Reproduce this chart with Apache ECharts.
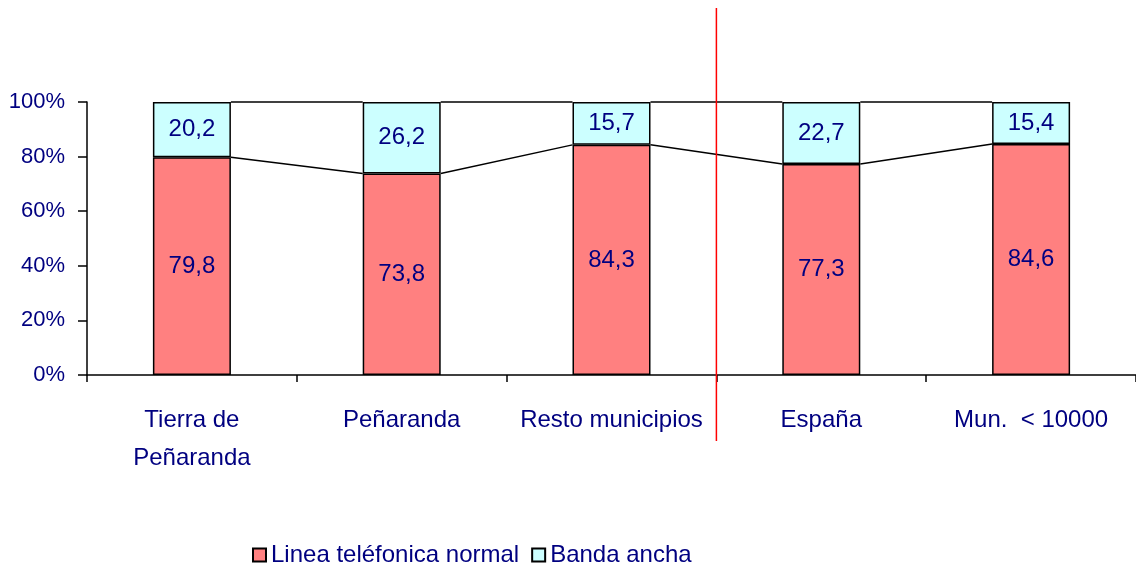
<!DOCTYPE html>
<html>
<head>
<meta charset="utf-8">
<title>Linea telefonica vs banda ancha</title>
<script src="https://cdn.jsdelivr.net/npm/echarts@6/dist/echarts.min.js"></script>
<style>
    html, body { margin: 0; padding: 0; background: #fff; }
    #chart { width: 1136px; height: 565px; }
</style>
</head>
<body>
<div id="chart"></div>
<script>
// categories and values (percent)
const categories = ['Tierra de\nPeñaranda', 'Peñaranda', 'Resto municipios', 'España', 'Mun.  < 10000'];
const lineaNormal = [79.8, 73.8, 84.3, 77.3, 84.6];
const bandaAncha = [20.2, 26.2, 15.7, 22.7, 15.4];
const yTicks = [0, 20, 40, 60, 80, 100];
const dividerAfter = 2; // red line between "Resto municipios" and "España"

const NAVY = '#000080';
const FONT = '"Liberation Sans", Arial, sans-serif';
const BAR_W = 78;

const chart = echarts.init(document.getElementById('chart'));

// series lines joining the tops of the stacked segments (Excel style)
const joinData = lineaNormal.slice(0, -1).map((v, i) => [i, v, lineaNormal[i + 1]]);

const valueLabel = {
    show: true, position: 'inside', color: NAVY, fontSize: 24,
    formatter: p => String(p.value).replace('.', ',')
};

const option = {
    backgroundColor: '#fff',
    animation: false,
    textStyle: { fontFamily: FONT },
    grid: { left: 87, top: 102, width: 1051, height: 273, containLabel: false },
    legend: {
        data: ['Linea teléfonica normal', 'Banda ancha'],
        left: 247,
        top: 538,
        itemWidth: 13,
        itemHeight: 13,
        itemGap: 12,
        icon: 'rect',
        textStyle: { color: NAVY, fontSize: 24, fontFamily: FONT }
    },
    xAxis: {
        type: 'category',
        data: categories,
        axisLine: { lineStyle: { color: '#000', width: 1.5 } },
        axisTick: { show: true, length: 7, lineStyle: { color: '#000', width: 1.5 } },
        axisLabel: { color: NAVY, fontSize: 24, margin: 26, lineHeight: 38, interval: 0 }
    },
    yAxis: {
        type: 'value',
        min: 0,
        max: 100,
        interval: 20,
        splitLine: { show: false },
        axisLine: { show: true, lineStyle: { color: '#000', width: 1.5 } },
        axisTick: { show: true, length: 9, lineStyle: { color: '#000', width: 1.5 } },
        axisLabel: {
            color: NAVY, fontSize: 22, margin: 22,
            formatter: v => (yTicks.includes(v) ? v + '%' : '')
        }
    },
    series: [
        {
            name: 'Linea teléfonica normal',
            type: 'bar',
            stack: 'total',
            barWidth: BAR_W,
            data: lineaNormal,
            itemStyle: { color: '#FF8080', borderColor: '#000', borderWidth: 1.5 },
            label: valueLabel
        },
        {
            name: 'Banda ancha',
            type: 'bar',
            stack: 'total',
            barWidth: BAR_W,
            data: bandaAncha,
            itemStyle: { color: '#CCFFFF', borderColor: '#000', borderWidth: 1.5 },
            label: valueLabel
        },
        {
            name: 'joins',
            type: 'custom',
            silent: true,
            z: 3,
            encode: { x: 0, y: 1 },
            data: joinData,
            renderItem: (params, api) => {
                const i = api.value(0);
                const half = BAR_W / 2;
                const a = api.coord([i, api.value(1)]);
                const b = api.coord([i + 1, api.value(2)]);
                const ta = api.coord([i, 100]);
                const tb = api.coord([i + 1, 100]);
                const style = { stroke: '#000', lineWidth: 1.5 };
                return {
                    type: 'group',
                    children: [
                        { type: 'line', shape: { x1: a[0] + half, y1: a[1], x2: b[0] - half, y2: b[1] }, style },
                        { type: 'line', shape: { x1: ta[0] + half, y1: ta[1], x2: tb[0] - half, y2: tb[1] }, style }
                    ]
                };
            }
        },
        {
            name: 'divider',
            type: 'custom',
            silent: true,
            clip: false,
            z: 4,
            encode: { x: 0, y: 1 },
            data: [[dividerAfter, 0]],
            renderItem: (params, api) => {
                const i = api.value(0);
                const p = api.coord([i, 0]);
                const q = api.coord([i + 1, 0]);
                const x = (p[0] + q[0]) / 2;
                return {
                    type: 'line',
                    shape: { x1: x, y1: 8, x2: x, y2: 441 },
                    style: { stroke: '#FF0000', lineWidth: 1.5 }
                };
            }
        }
    ]
};

chart.setOption(option);
</script>
</body>
</html>
